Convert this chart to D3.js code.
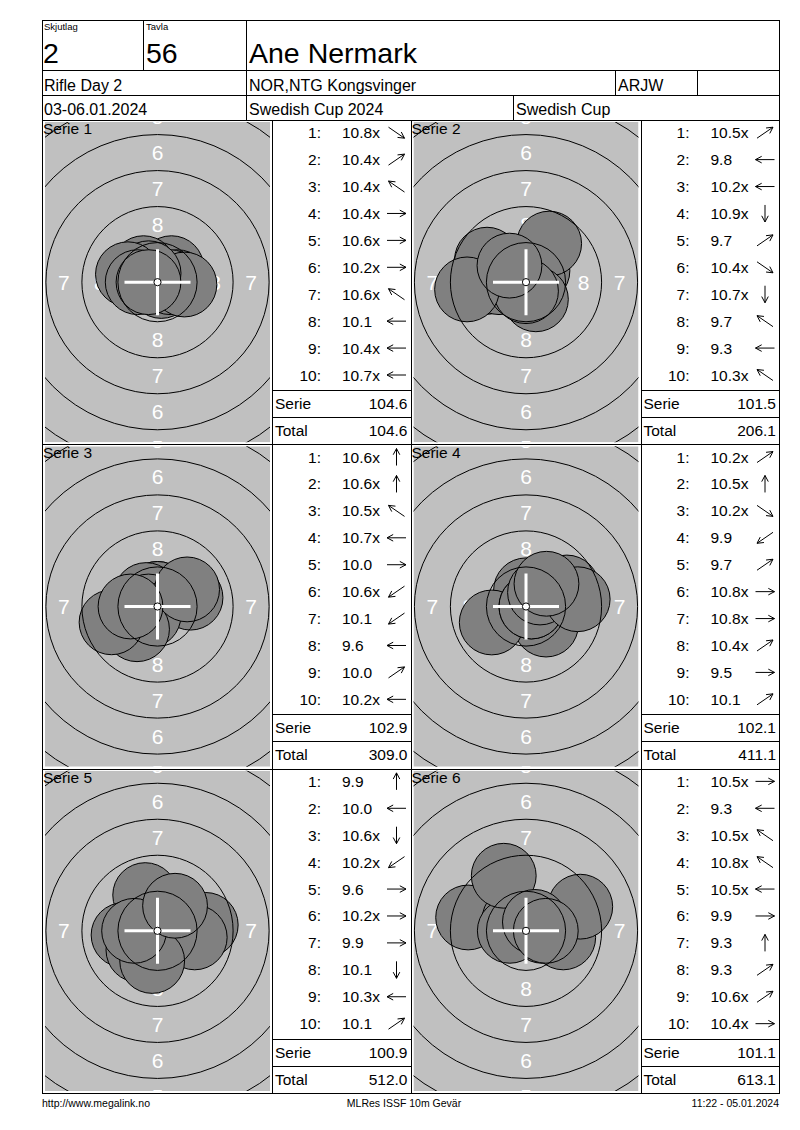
<!DOCTYPE html>
<html>
<head>
<meta charset="utf-8">
<script src="https://cdn.jsdelivr.net/npm/d3@7"></script>
<style>
  body { margin: 0; background: #fff; }
  text { font-family: "Liberation Sans", Arial, sans-serif; }
</style>
</head>
<body>
<div id="chart"></div>
<script>
const skjutlag = "2";
const tavla = "56";
const shooter = "Ane Nermark";
const headerRow2 = ["Rifle Day 2", "NOR,NTG Kongsvinger", "ARJW", ""];
const headerRow3 = ["03-06.01.2024", "Swedish Cup 2024", "Swedish Cup"];
const footerTexts = ["http://www.megalink.no", "MLRes ISSF 10m Gevär", "11:22 - 05.01.2024"];

const serieNames = ["Serie 1", "Serie 2", "Serie 3", "Serie 4", "Serie 5", "Serie 6"];
const shotValues = [
  [10.8, 10.4, 10.4, 10.4, 10.6, 10.2, 10.6, 10.1, 10.4, 10.7],
  [10.5, 9.8, 10.2, 10.9, 9.7, 10.4, 10.7, 9.7, 9.3, 10.3],
  [10.6, 10.6, 10.5, 10.7, 10.0, 10.6, 10.1, 9.6, 10.0, 10.2],
  [10.2, 10.5, 10.2, 9.9, 9.7, 10.8, 10.8, 10.4, 9.5, 10.1],
  [9.9, 10.0, 10.6, 10.2, 9.6, 10.2, 9.9, 10.1, 10.3, 10.1],
  [10.5, 9.3, 10.5, 10.8, 10.5, 9.9, 9.3, 9.3, 10.6, 10.4]
];
// direction of each hit from the centre, degrees counter-clockwise from 3 o'clock
const shotAngles = [
  [-45, 45, 135, 0, 0, -5, 135, 165, 180, 180],
  [45, 180, 180, -90, 59, -60, -90, 150, 187, 135],
  [90, 90, 135, 180, 15, 225, 228, 199, 30, 180],
  [45, 90, -42, 205, 25, 0, 0, 45, 8, 48],
  [109, 187, -90, 225, 7, 0, -10, 260, 180, 55],
  [0, 167, 135, 135, 180, -10, 112, 24, 45, 0]
];
const ringNumbers = [1, 2, 3, 4, 5, 6, 7, 8, 9];

// ---- layout ----
const width = 800, height = 1130;
const pageL = 42, pageR = 779, pageT = 20, pageB = 1093;
const panelTop0 = 120;
const panelH = (pageB - panelTop0) / 3;
const colX = [pageL, 272, 410.5, 640.5, pageR];   // target | scores | target | scores

// ISSF 10m air rifle target (mm) -> px
const mm = d3.scaleLinear().domain([0, 1]).range([0, 14.4]);
const ringRadius = k => 0.25 + (10 - k) * 2.5;      // outer edge of ring k
const pelletR = 2.25;
// decimal score -> distance of pellet centre from target centre
const hitDist = v => (10.95 - v) * 2.5;

const fmt1 = d3.format(".1f");
const fmtShot = v => fmt1(v) + (v >= 10.2 ? "x" : "");

const svg = d3.select("#chart").append("svg")
  .attr("width", width)
  .attr("height", height);

const px = v => Math.round(v) + 0.5;
function hline(x1, x2, y) {
  svg.append("line").attr("x1", x1).attr("x2", x2 + 1).attr("y1", px(y)).attr("y2", px(y))
    .attr("stroke", "#000").attr("stroke-width", 1).attr("shape-rendering", "crispEdges");
}
function vline(x, y1, y2) {
  svg.append("line").attr("x1", px(x)).attr("x2", px(x)).attr("y1", y1).attr("y2", y2 + 1)
    .attr("stroke", "#000").attr("stroke-width", 1).attr("shape-rendering", "crispEdges");
}
function label(x, y, txt, size, anchor) {
  return svg.append("text").attr("x", x).attr("y", y)
    .attr("font-size", size).attr("text-anchor", anchor || "start")
    .attr("fill", "#000").text(txt);
}

// ---- targets ----
serieNames.forEach((name, i) => {
  const row = Math.floor(i / 2), col = i % 2;
  const x0 = colX[col * 2], x1 = colX[col * 2 + 1];
  const y0 = panelTop0 + row * panelH;
  const cx = (x0 + x1) / 2 + 0.5, cy = y0 + panelH / 2;
  const gw = x1 - x0 - 5, gh = panelH - 4;

  const xs = d3.scaleLinear().domain([-1, 1]).range([cx - mm(1), cx + mm(1)]);
  const ys = d3.scaleLinear().domain([-1, 1]).range([cy + mm(1), cy - mm(1)]);

  svg.append("clipPath").attr("id", "clip" + i)
    .append("rect").attr("x", x0 + 3).attr("y", y0 + 2)
    .attr("width", gw).attr("height", gh);

  const g = svg.append("g").attr("clip-path", "url(#clip" + i + ")");
  g.append("rect").attr("x", x0 + 3).attr("y", y0 + 2)
    .attr("width", gw).attr("height", gh)
    .attr("fill", "#c0c0c0");

  // ring numbers in the four directions (only those that reach the visible area)
  const lab = [];
  ringNumbers.slice(0, 8).forEach(k => {
    const r = (ringRadius(k) + ringRadius(k + 1)) / 2;
    [[0, r], [0, -r], [r, 0], [-r, 0]].forEach(p => lab.push({ k, x: p[0], y: p[1] }));
  });
  const visible = lab.filter(d =>
    Math.abs(mm(d.x)) < gw / 2 - 2 && Math.abs(mm(d.y)) < gh / 2 + 6);
  g.selectAll(".rn").data(visible).enter().append("text")
    .attr("x", d => xs(d.x)).attr("y", d => ys(d.y))
    .attr("text-anchor", "middle").attr("dominant-baseline", "central")
    .attr("font-size", 21).attr("fill", "#fff")
    .text(d => d.k);

  // hits
  const hits = shotValues[i].map((v, j) => {
    const a = shotAngles[i][j] * Math.PI / 180, d = hitDist(v);
    return { x: d * Math.cos(a), y: d * Math.sin(a) };
  });
  g.selectAll(".hit").data(hits).enter().append("circle")
    .attr("cx", d => xs(d.x)).attr("cy", d => ys(d.y))
    .attr("r", mm(pelletR))
    .attr("fill", "#808080").attr("stroke", "#000").attr("stroke-width", 1);

  // scoring rings on top
  g.selectAll(".ring").data(ringNumbers).enter().append("circle")
    .attr("cx", xs(0)).attr("cy", ys(0))
    .attr("r", k => mm(ringRadius(k)))
    .attr("fill", "none").attr("stroke", "#000").attr("stroke-width", 1);

  // crosshair + ten dot
  const ch = 33;
  g.append("line").attr("x1", cx - ch).attr("x2", cx + ch).attr("y1", cy).attr("y2", cy)
    .attr("stroke", "#fff").attr("stroke-width", 3);
  g.append("line").attr("x1", cx).attr("x2", cx).attr("y1", cy - ch).attr("y2", cy + ch)
    .attr("stroke", "#fff").attr("stroke-width", 3);
  g.append("circle").attr("cx", cx).attr("cy", cy).attr("r", mm(ringRadius(10)))
    .attr("fill", "#fff").attr("stroke", "#000").attr("stroke-width", 1);

  label(x0 + 1, y0 + 14, name, 15.5);
});

// ---- score columns ----
const rowY = d3.scaleLinear().domain([1, 10]).range([18.2, 260.5]);
let running = 0;
serieNames.forEach((name, i) => {
  const row = Math.floor(i / 2), col = i % 2;
  const sx = colX[col * 2 + 1], ex = colX[col * 2 + 2];
  const y0 = panelTop0 + row * panelH;
  const vals = shotValues[i];

  vals.forEach((v, j) => {
    const by = y0 + rowY(j + 1);
    label(sx + 49, by, (j + 1) + ":", 15.5, "end");
    label(sx + 70, by, fmtShot(v), 15.5);

    // direction arrow, snapped to 8 directions
    const dir = ((Math.round(shotAngles[i][j] / 45) % 8) + 8) % 8;
    const diag = dir % 2 === 1;
    const a = dir * 45 * Math.PI / 180;
    const hx = diag ? 8 : 9.5, hy = diag ? 5.5 : 8.5;
    const ux = Math.sign(Math.round(Math.cos(a) * 1000)), uy = -Math.sign(Math.round(Math.sin(a) * 1000));
    const acx = sx + 124.5, acy = by - 5.5;
    const tip = [acx + ux * hx, acy + uy * hy], tail = [acx - ux * hx, acy - uy * hy];
    const ang = Math.atan2(tail[1] - tip[1], tail[0] - tip[0]);
    const hl = 7, spread = 28 * Math.PI / 180;
    const h1 = [tip[0] + hl * Math.cos(ang + spread), tip[1] + hl * Math.sin(ang + spread)];
    const h2 = [tip[0] + hl * Math.cos(ang - spread), tip[1] + hl * Math.sin(ang - spread)];
    svg.append("path")
      .attr("d", d3.line()([tail, tip]) + d3.line()([h1, tip, h2]))
      .attr("fill", "none").attr("stroke", "#000").attr("stroke-width", 1);
  });

  const serie = Math.round(d3.sum(vals) * 10) / 10;
  running = Math.round((running + serie) * 10) / 10;
  hline(sx, ex, y0 + 270);
  hline(sx, ex, y0 + 297);
  label(sx + 3, y0 + 289, "Serie", 15.5);
  label(ex - 3, y0 + 289, fmt1(serie), 15.5, "end");
  label(sx + 3, y0 + 316, "Total", 15.5);
  label(ex - 3, y0 + 316, fmt1(running), 15.5, "end");
});

// ---- header ----
label(44, 30, "Skjutlag", 9.5);
label(146, 30, "Tavla", 9.5);
label(43, 63, skjutlag, 28.5);
label(146, 63, tavla, 28.5);
label(249, 63, shooter, 28.5);
[44, 249, 618, 700].forEach((x, k) => label(x, 90.5, headerRow2[k], 16));
[44, 249, 516].forEach((x, k) => label(x, 114.5, headerRow3[k], 16));

// ---- grid lines ----
hline(pageL, pageR, pageT);
hline(pageL, pageR, 70);
hline(pageL, pageR, 95);
[0, 1, 2].forEach(r => hline(pageL, pageR, panelTop0 + r * panelH));
hline(pageL, pageR, pageB);
vline(pageL, pageT, pageB);
vline(pageR, pageT, pageB);
vline(143, pageT, 70);
vline(246, pageT, 120);
vline(615, 70, 95);
vline(697, 70, 95);
vline(513, 95, 120);
[colX[1], colX[2], colX[3]].forEach(x => vline(x, panelTop0, pageB));

// ---- footer ----
label(42, 1107, footerTexts[0], 10.5);
label(404, 1107, footerTexts[1], 10.5, "middle");
label(779, 1107, footerTexts[2], 10.5, "end");
</script>
</body>
</html>
